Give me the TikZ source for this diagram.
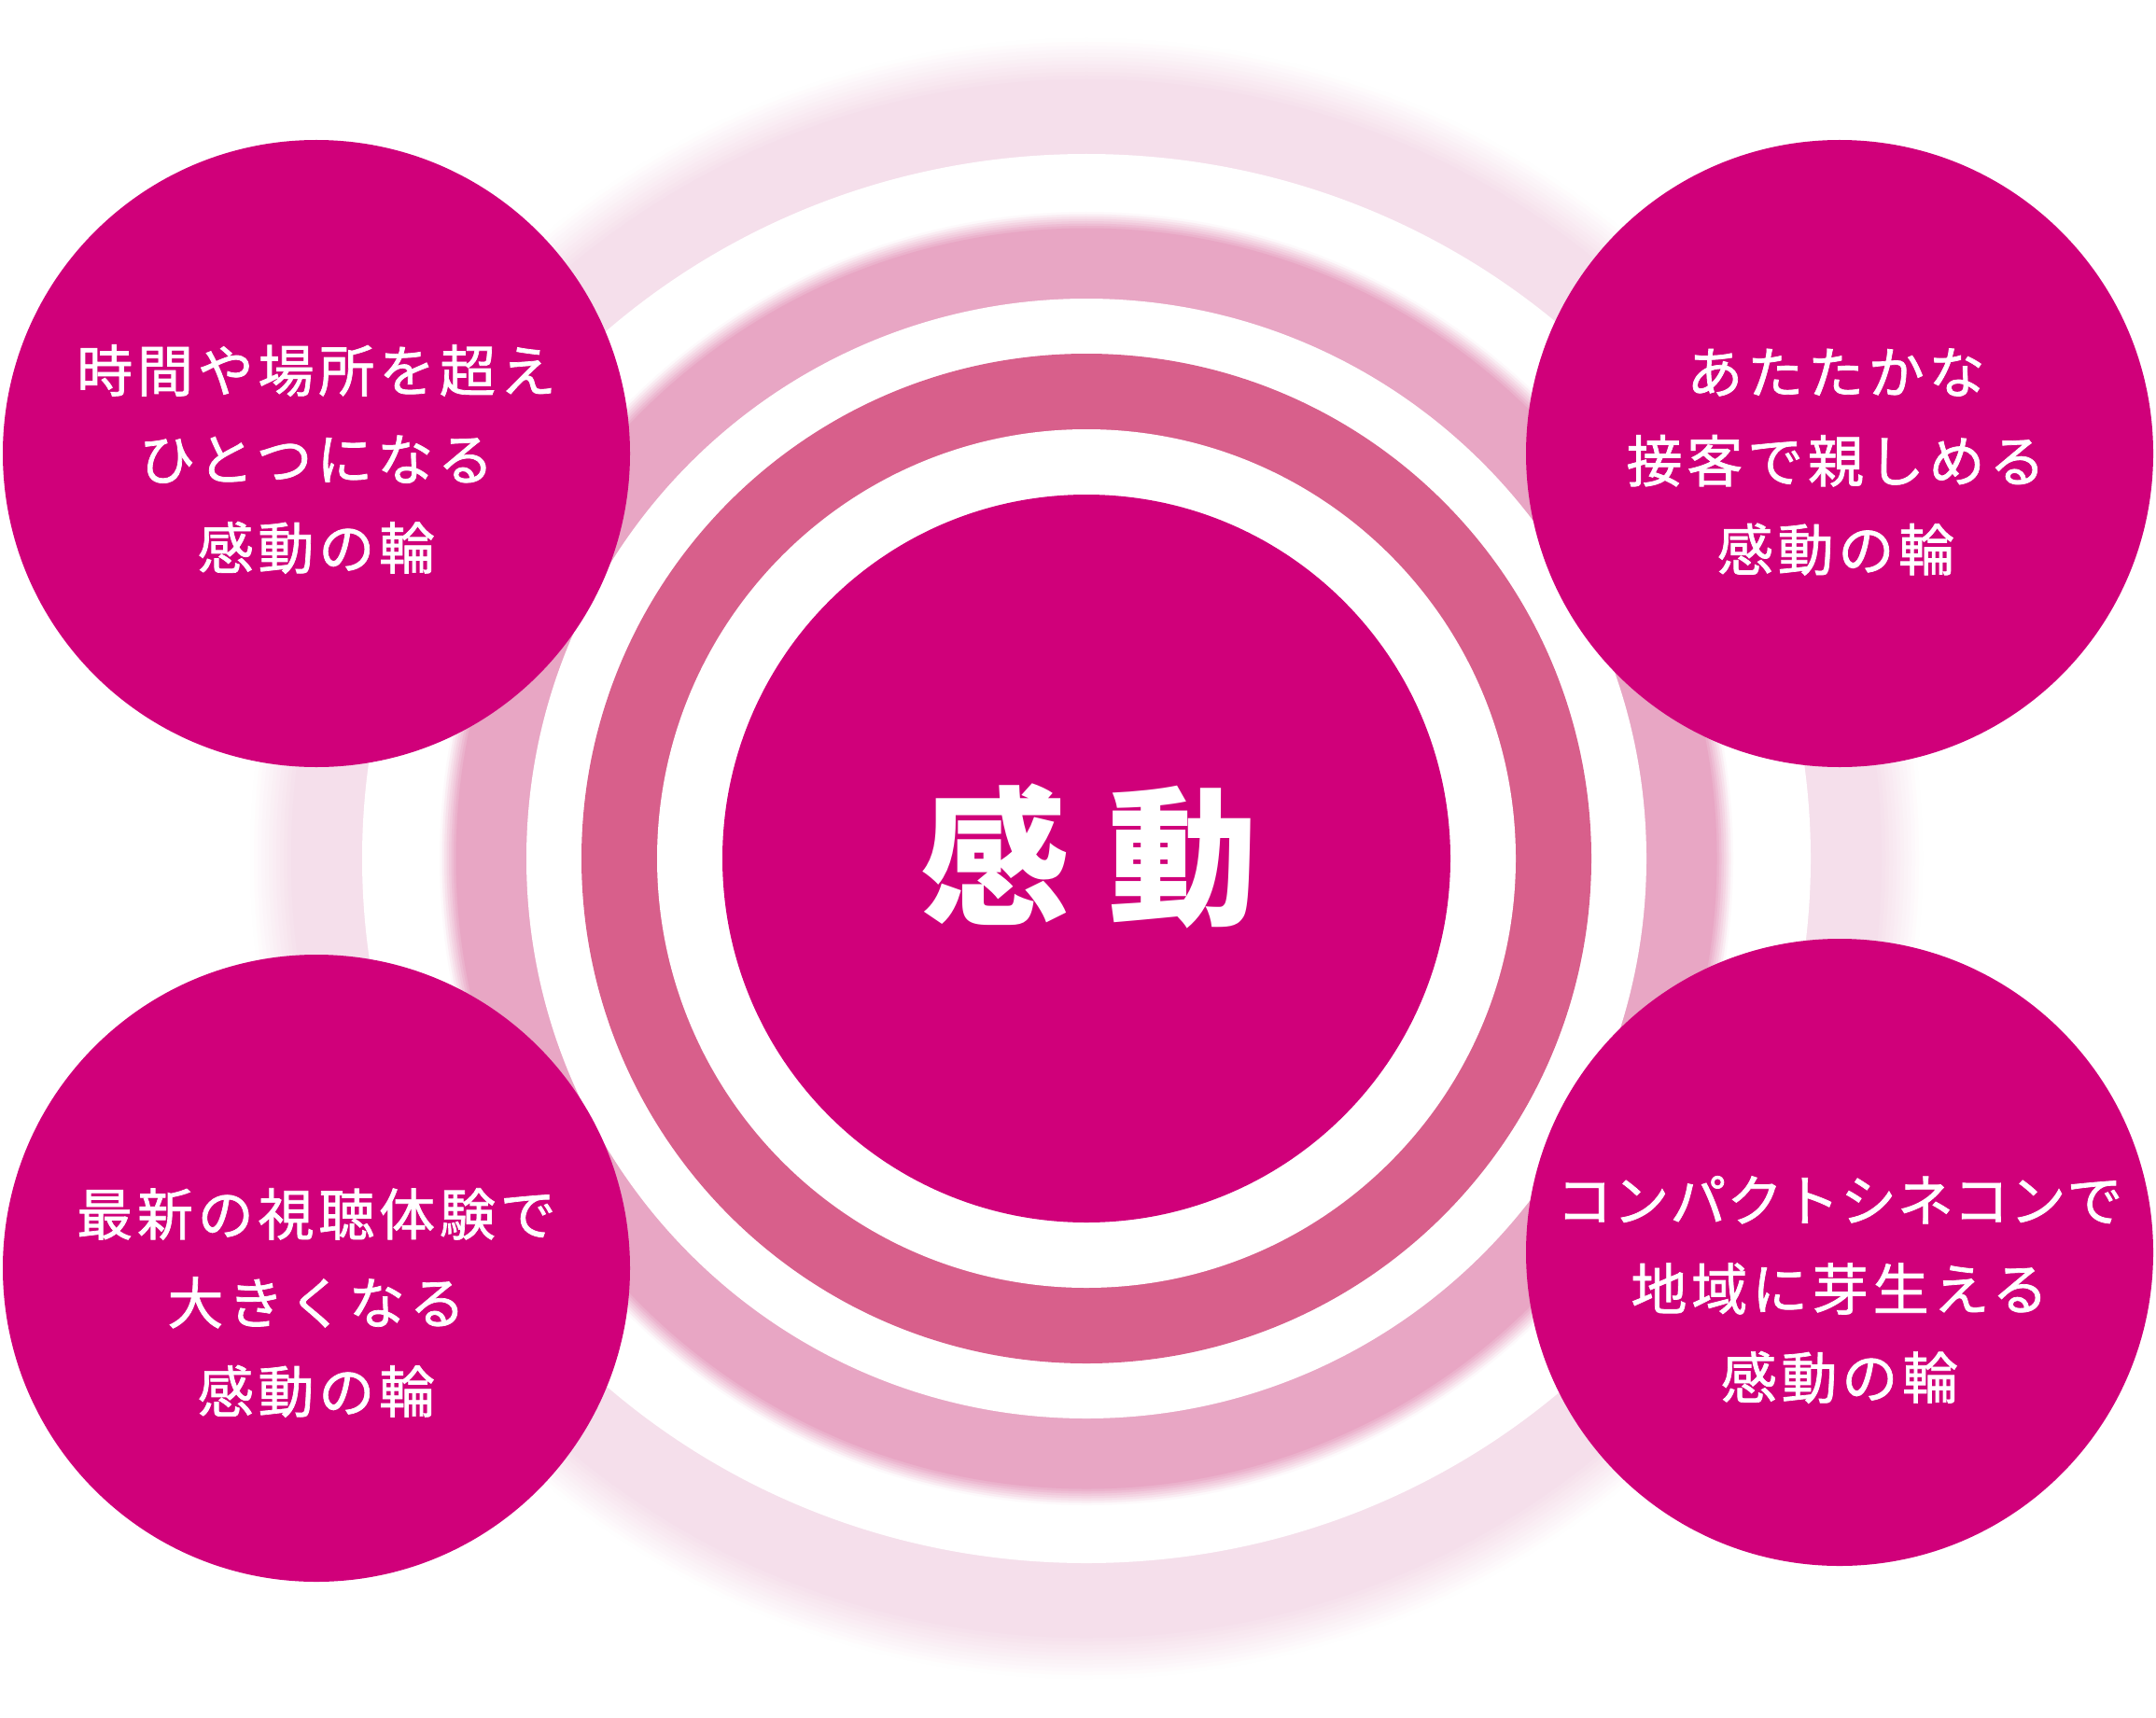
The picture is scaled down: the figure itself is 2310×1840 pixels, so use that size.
\documentclass[tikz,border=0pt]{standalone}
\usepackage{fontspec}
\newfontfamily\jp{Noto Sans CJK JP}
\definecolor{mag}{HTML}{D0007A}
\definecolor{ringdark}{HTML}{D85F8B}
\definecolor{ringlight}{HTML}{E6A0C0}
\definecolor{ringfaint}{HTML}{F5DEEA}
\tikzset{
  bubble/.style={fill=mag},
  bubbletext/.style={text=white, align=center, inner sep=0pt,
    font=\jp\fontsize{30pt}{47.5pt}\selectfont\addfontfeature{LetterSpace=8,FakeBold=1.2}},
  centertext/.style={text=white, inner sep=0pt,
    font=\jp\bfseries\fontsize{80pt}{90pt}\selectfont\addfontfeature{LetterSpace=26}}
}
\begin{document}
\begin{tikzpicture}[x=0.5pt,y=-0.5pt]
\useasboundingbox (0,0) rectangle (2310,1840);
\fill[white] (0,0) rectangle (2310,1840);
\coordinate (c) at (1164,920);
% faint outer band with soft outer edge
\foreach \i in {0,...,11}{
  \pgfmathtruncatemacro\f{round(100*(\i+0.5)/12)}
  \pgfmathsetmacro\rx{(872+24-\i*4)/2}
  \pgfmathsetmacro\ry{(855+24-\i*4)/2}
  \fill[ringfaint!\f!white] (c) ellipse [x radius=\rx pt, y radius=\ry pt];
}
\fill[white] (c) ellipse [x radius=388pt, y radius=377.5pt];
% light band with soft outer edge
\foreach \i in {0,...,7}{
  \pgfmathtruncatemacro\f{round(100*(\i+0.5)/8)}
  \pgfmathsetmacro\r{(683+10-\i*2.5)/2}
  \fill[ringlight!\f!white] (c) circle [radius=\r pt];
}
\fill[white] (c) circle [radius=300pt];
\fill[ringdark] (c) circle [radius=270.5pt];
\fill[white] (c) circle [radius=230pt];
\fill[mag] (c) circle [radius=195pt];
\node[centertext] (core) at (1167,917) {感動};
% four bubbles
\fill[bubble] (339,486) circle [radius=168pt];
\fill[bubble] (1971,486) circle [radius=168pt];
\fill[bubble] (339,1359) circle [radius=168pt];
\fill[bubble] (1971,1342) circle [radius=168pt];
\node[bubbletext] (tl) at (339,492) {時間や場所を超え\\ひとつになる\\感動の輪};
\node[bubbletext] (tr) at (1967,495) {あたたかな\\接客で親しめる\\感動の輪};
\node[bubbletext] (bl) at (339,1396) {最新の視聴体験で\\大きくなる\\感動の輪};
\node[bubbletext] (br) at (1971,1382) {{\addfontfeature{LetterSpace=1.5}コンパクトシネコンで}\\地域に芽生える\\感動の輪};
\end{tikzpicture}
\end{document}
